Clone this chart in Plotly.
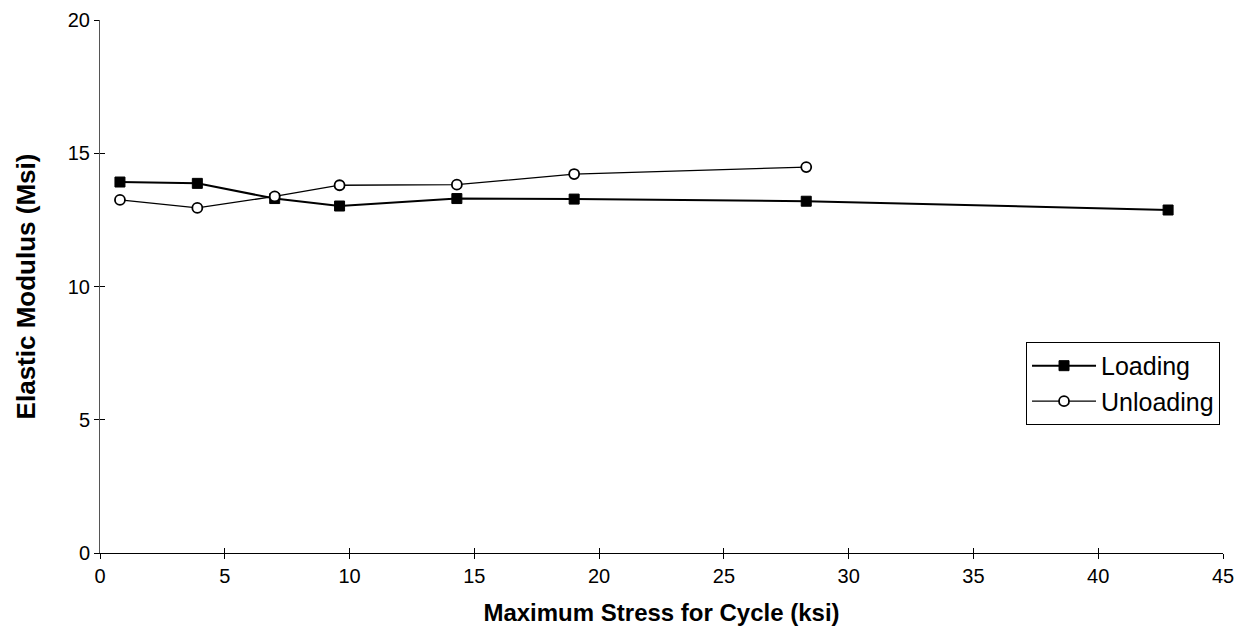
import plotly.graph_objects as go

# Stress at the peak of each load cycle (ksi)
loading_stress = [0.8, 3.9, 7.0, 9.6, 14.3, 19.0, 28.3, 42.8]
loading_modulus = [13.92, 13.87, 13.3, 13.02, 13.3, 13.28, 13.2, 12.87]

unloading_stress = [0.8, 3.9, 7.0, 9.6, 14.3, 19.0, 28.3]
unloading_modulus = [13.25, 12.95, 13.38, 13.8, 13.82, 14.22, 14.48]

x_ticks = [0, 5, 10, 15, 20, 25, 30, 35, 40, 45]
y_ticks = [0, 5, 10, 15, 20]

FONT = "Arial, Liberation Sans, Helvetica, sans-serif"

fig = go.Figure()

fig.add_trace(go.Scatter(
    x=loading_stress, y=loading_modulus, name="Loading",
    mode="lines+markers",
    line=dict(color="black", width=2),
    marker=dict(symbol="square", size=10, color="black",
                line=dict(color="black", width=1)),
))
fig.add_trace(go.Scatter(
    x=unloading_stress, y=unloading_modulus, name="Unloading",
    mode="lines+markers",
    line=dict(color="black", width=1.3),
    marker=dict(symbol="circle", size=10, color="white",
                line=dict(color="black", width=1.8)),
))

# Invisible trace on the overlay axes so their inward ticks are drawn
fig.add_trace(go.Scatter(
    x=[0], y=[0], xaxis="x2", yaxis="y2", mode="markers",
    marker=dict(opacity=0), showlegend=False, hoverinfo="skip",
))

axis_common = dict(showgrid=False, zeroline=False, ticklen=5, tickwidth=1,
                   tickcolor="black", automargin=False,
                   tickfont=dict(family=FONT, size=20, color="black"))

fig.update_layout(
    width=1245, height=638,
    margin=dict(l=100, r=22, t=20, b=85),
    paper_bgcolor="white", plot_bgcolor="white",
    font=dict(family=FONT, color="black"),
    xaxis=dict(
        range=[0, 45], tickvals=x_ticks, ticks="outside",
        showline=True, linecolor="black", linewidth=1.3,
        title=dict(text="<b>Maximum Stress for Cycle (ksi)</b>",
                   font=dict(family=FONT, size=24), standoff=18),
        **axis_common,
    ),
    yaxis=dict(
        range=[0, 20], tickvals=y_ticks, ticks="outside",
        showline=True, linecolor="#555555", linewidth=1,
        title=dict(text="<b>Elastic Modulus (Msi)</b>",
                   font=dict(family=FONT, size=26), standoff=24),
        **axis_common,
    ),
    xaxis2=dict(range=[0, 45], tickvals=x_ticks, ticks="inside",
                showticklabels=False, overlaying="x", anchor="y2",
                showgrid=False, zeroline=False, ticklen=5, tickcolor="black"),
    yaxis2=dict(range=[0, 20], tickvals=y_ticks, ticks="inside",
                showticklabels=False, overlaying="y", anchor="x2",
                showgrid=False, zeroline=False, ticklen=5, tickcolor="black"),
    legend=dict(
        x=0.8246, y=0.396, xanchor="left", yanchor="top",
        bordercolor="black", borderwidth=1, bgcolor="white",
        font=dict(family=FONT, size=25, color="black"),
        tracegroupgap=0, itemwidth=64,
    ),
    showlegend=True,
)

fig.write_html("out.html")
